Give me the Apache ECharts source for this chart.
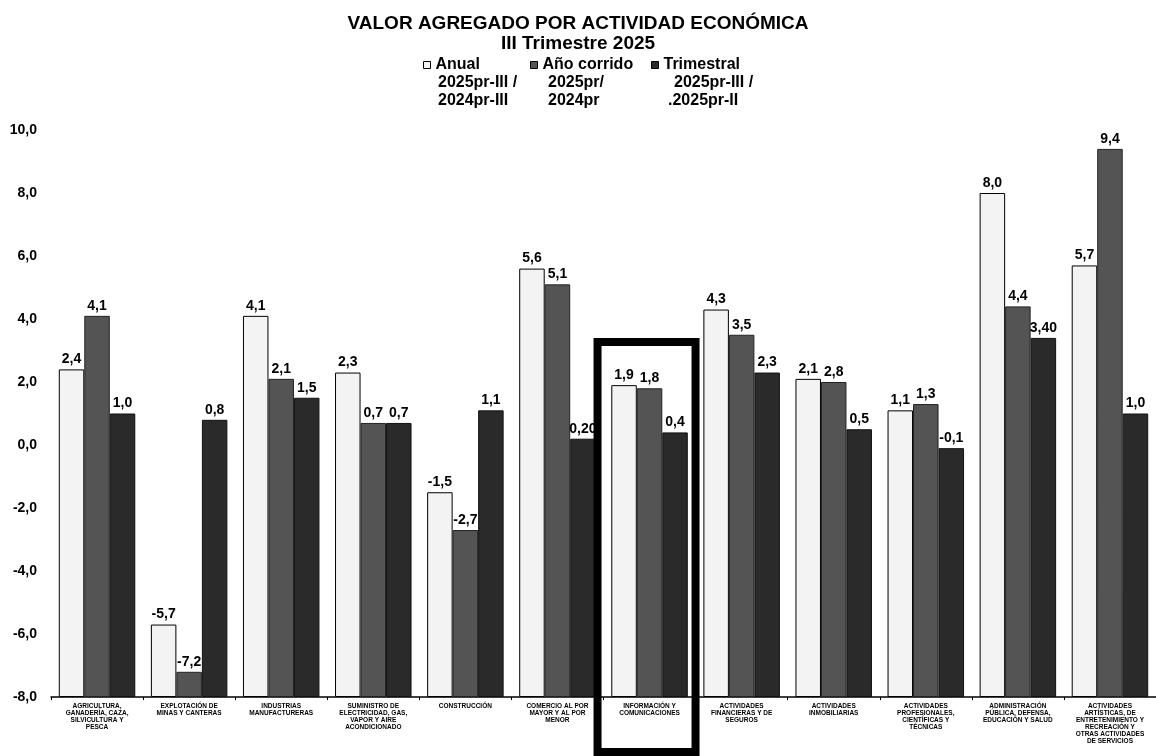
<!DOCTYPE html>
<html><head><meta charset="utf-8">
<script src="https://cdn.jsdelivr.net/npm/echarts@6/dist/echarts.min.js"></script>
<style>html,body{margin:0;padding:0;background:#fff}#c{width:1156px;height:756px}</style>
</head><body><div id="c"></div>
<script>
const categories = [
  "AGRICULTURA,\nGANADERÍA, CAZA,\nSILVICULTURA Y\nPESCA",
  "EXPLOTACIÓN DE\nMINAS Y CANTERAS",
  "INDUSTRIAS\nMANUFACTURERAS",
  "SUMINISTRO DE\nELECTRICIDAD, GAS,\nVAPOR Y AIRE\nACONDICIONADO",
  "CONSTRUCCIÓN",
  "COMERCIO AL POR\nMAYOR Y AL POR\nMENOR",
  "INFORMACIÓN Y\nCOMUNICACIONES",
  "ACTIVIDADES\nFINANCIERAS Y DE\nSEGUROS",
  "ACTIVIDADES\nINMOBILIARIAS",
  "ACTIVIDADES\nPROFESIONALES,\nCIENTÍFICAS Y\nTÉCNICAS",
  "ADMINISTRACIÓN\nPÚBLICA, DEFENSA,\nEDUCACIÓN Y SALUD",
  "ACTIVIDADES\nARTÍSTICAS, DE\nENTRETENIMIENTO Y\nRECREACIÓN Y\nOTRAS ACTIVIDADES\nDE SERVICIOS"
];
const anual      = [2.4, -5.7, 4.1, 2.3, -1.5, 5.6, 1.9, 4.3, 2.1, 1.1, 8.0, 5.7];
const anioCorrido= [4.1, -7.2, 2.1, 0.7, -2.7, 5.1, 1.8, 3.5, 2.0, 1.3, 4.4, 9.4];
const trimestral = [1.0, 0.8, 1.5, 0.7, 1.1, 0.2, 0.4, 2.3, 0.5, -0.1, 3.4, 1.0];
const anualLabels      = ["2,4","-5,7","4,1","2,3","-1,5","5,6","1,9","4,3","2,1","1,1","8,0","5,7"];
const anioCorridoLabels= ["4,1","-7,2","2,1","0,7","-2,7","5,1","1,8","3,5","2,8","1,3","4,4","9,4"];
const trimestralLabels = ["1,0","0,8","1,5","0,7","1,1","0,20","0,4","2,3","0,5","-0,1","3,40","1,0"];
const seriesNames = ["Anual", "Año corrido", "Trimestral"];
const legendLine2 = ["2025pr-III /", "2025pr/", "2025pr-III /"];
const legendLine3 = ["2024pr-III", "2024pr", ".2025pr-II"];
const yMin = -8, yMax = 10, yInterval = 2;
const highlightIndex = 6;
const highlightTop = 3.27;

const chart = echarts.init(document.getElementById('c'), null, {renderer:'canvas'});
const font = 'Liberation Sans, Arial, sans-serif';
const base = v => v - yMin;
function mk(name, vals, labels, color, border) {
  return {
    name, type:'bar', barWidth: 25.5, barGap: '0%',
    data: vals.map(base),
    itemStyle:{color, borderColor: border, borderWidth: 1},
    label:{show:true, position:'top', distance:3, fontFamily:font, fontWeight:'bold', fontSize:14, color:'#000',
      formatter: p => labels[p.dataIndex]}
  };
}
const legendText = {fontFamily:font, fontWeight:'bold', fontSize:16, color:'#000'};
function lg(name, left) {
  return {data:[name], left, top:57, icon:'rect', itemWidth:7, itemHeight:7,
    textStyle:legendText, selectedMode:false, padding:0,
    itemStyle:{borderColor:'#000', borderWidth:1}};
}
const sub = (text, x, y) => ({type:'text', x, y, style:{text, font:'bold 16px '+font, fill:'#000', verticalAlign:'middle'}});
const subs = [
  sub(legendLine2[0], 438, 83), sub(legendLine3[0], 438, 101),
  sub(legendLine2[1], 548, 83), sub(legendLine3[1], 548, 101),
  sub(legendLine2[2], 674, 83), sub(legendLine3[2], 668, 101)
];
chart.setOption({
  animation:false,
  title:{text:'VALOR AGREGADO POR ACTIVIDAD ECONÓMICA', subtext:'III Trimestre 2025', left:'center', top:8, itemGap:0,
    textStyle:{fontFamily:font, fontWeight:'bold', fontSize:19, color:'#000', lineHeight:21},
    subtextStyle:{fontFamily:font, fontWeight:'bold', fontSize:19, color:'#000', lineHeight:19}},
  legend:[lg(seriesNames[0],423), lg(seriesNames[1],530), lg(seriesNames[2],651)],
  grid:{left:51, top:130, width:1109, height:567, containLabel:false},
  xAxis:{type:'category', data:categories,
    axisLine:{lineStyle:{color:'#000', width:1.5}},
    axisTick:{show:true, length:3, lineStyle:{color:'#000'}},
    axisLabel:{interval:0, fontFamily:font, fontWeight:'bold', fontSize:6.5, lineHeight:7, color:'#000', margin:6}},
  yAxis:{type:'value', min:0, max:yMax-yMin, interval:yInterval,
    axisLine:{show:false}, axisTick:{show:false}, splitLine:{show:false},
    axisLabel:{fontFamily:font, fontWeight:'bold', fontSize:14, color:'#000', margin:14,
      formatter: v => (v + yMin).toFixed(1).replace('.', ',')}},
  series:[
    mk(seriesNames[0], anual, anualLabels, '#f3f3f3', '#000'),
    mk(seriesNames[1], anioCorrido, anioCorridoLabels, '#545454', '#222'),
    mk(seriesNames[2], trimestral, trimestralLabels, '#2a2a2a', '#111')
  ],
  graphic: subs
});
// highlight frame around the selected category
const cx = chart.convertToPixel({xAxisIndex:0}, highlightIndex);
const topY = chart.convertToPixel({yAxisIndex:0}, base(highlightTop));
chart.setOption({graphic: subs.concat([
  {type:'rect', shape:{x:cx-52, y:topY, width:98, height:752-topY},
   style:{fill:'none', stroke:'#000', lineWidth:8}, z:10}
])});
</script></body></html>
